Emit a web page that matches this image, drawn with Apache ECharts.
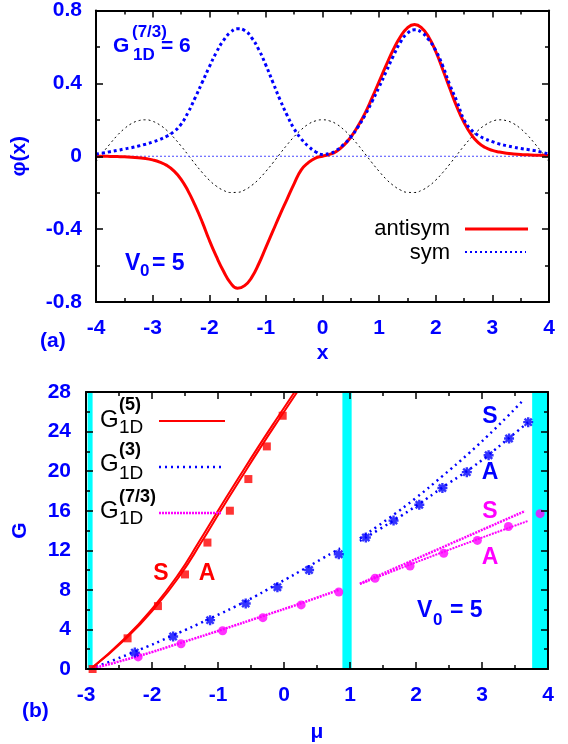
<!DOCTYPE html>
<html><head><meta charset="utf-8">
<script src="https://cdn.jsdelivr.net/npm/echarts@6/dist/echarts.min.js"></script>
<style>html,body{margin:0;padding:0;background:#fff}#c{width:568px;height:744px}</style>
</head><body><div id="c"></div>
<script>
// ---------- panel (a) data ----------
const xGrid = [-4, -3.875, -3.75, -3.625, -3.5, -3.375, -3.25, -3.125, -3, -2.875, -2.75, -2.625, -2.5, -2.375, -2.25, -2.125,
               -2, -1.875, -1.75, -1.625, -1.5, -1.375, -1.25, -1.125, -1, -0.875, -0.75, -0.625, -0.5, -0.375, -0.25, -0.125,
               0, 0.125, 0.25, 0.375, 0.5, 0.625, 0.75, 0.875, 1, 1.125, 1.25, 1.375, 1.5, 1.625, 1.75, 1.875,
               2, 2.125, 2.25, 2.375, 2.5, 2.625, 2.75, 2.875, 3, 3.125, 3.25, 3.375, 3.5, 3.625, 3.75, 3.875, 4];
const phiAntisym = [0, 0, -0.001, -0.002, -0.003, -0.005, -0.008, -0.012, -0.02, -0.032, -0.05, -0.08, -0.125, -0.19, -0.27, -0.36,
                    -0.46, -0.55, -0.63, -0.695, -0.725, -0.71, -0.665, -0.59, -0.50, -0.41, -0.32, -0.235, -0.15, -0.075, -0.035, -0.01,
                    0, 0.01, 0.028, 0.06, 0.105, 0.165, 0.235, 0.32, 0.41, 0.50, 0.585, 0.655, 0.705, 0.723, 0.705, 0.655,
                    0.575, 0.475, 0.37, 0.27, 0.185, 0.12, 0.075, 0.048, 0.032, 0.023, 0.017, 0.013, 0.01, 0.008, 0.006, 0.005, 0.004];
const phiSym = [0.012, 0.018, 0.025, 0.032, 0.04, 0.047, 0.056, 0.066, 0.078, 0.092, 0.11, 0.135, 0.175, 0.24, 0.32, 0.405,
                0.49, 0.57, 0.635, 0.68, 0.70, 0.69, 0.65, 0.585, 0.50, 0.405, 0.31, 0.225, 0.15, 0.095, 0.055, 0.025,
                0.01, 0.015, 0.033, 0.065, 0.105, 0.16, 0.225, 0.30, 0.38, 0.465, 0.55, 0.625, 0.675, 0.694, 0.68, 0.64,
                0.58, 0.495, 0.39, 0.30, 0.20, 0.145, 0.115, 0.095, 0.08, 0.067, 0.058, 0.05, 0.043, 0.037, 0.031, 0.022, 0.012];
const potential = [-0.029, 0.021, 0.069, 0.114, 0.151, 0.179, 0.195, 0.2, 0.192, 0.172, 0.142, 0.102, 0.057, 0.008, -0.042, -0.089,
                   -0.131, -0.164, -0.187, -0.199, -0.198, -0.185, -0.160, -0.126, -0.083, -0.036, 0.014, 0.063, 0.108, 0.146, 0.176, 0.194,
                   0.2, 0.194, 0.176, 0.146, 0.108, 0.063, 0.014, -0.036, -0.083, -0.126, -0.160, -0.185, -0.198, -0.199, -0.187, -0.164,
                   -0.131, -0.089, -0.042, 0.008, 0.057, 0.102, 0.142, 0.172, 0.192, 0.2, 0.195, 0.179, 0.151, 0.114, 0.069, 0.021, -0.029];
const zeroX = [-4, 4];
const zeroY = [0, 0];
const xTicksA = ['-4', '-3', '-2', '-1', '0', '1', '2', '3', '4'];
const yTicksA = ['-0.8', '-0.4', '0', '0.4', '0.8'];

// ---------- panel (b) data ----------
const bandLo = [-2.975, 0.885, 3.76];
const bandHi = [-2.9, 1.025, 4.0];

const redS_mu = [-2.93, -2.41, -1.965, -1.60, -1.295, -1.00, -0.69, -0.385, -0.08, 0.16];
const redS_G  = [0, 3.1, 6.36, 9.56, 12.78, 16.0, 19.3, 22.5, 25.6, 28];
const redA_mu = [-2.93, -2.39, -1.935, -1.565, -1.255, -0.96, -0.65, -0.345, -0.04, 0.20];
const redA_G  = [0, 3.1, 6.36, 9.56, 12.78, 16.0, 19.3, 22.5, 25.6, 28];
const redSq_mu = [-2.9, -2.37, -1.91, -1.50, -1.16, -0.82, -0.54, -0.26, -0.02];
const redSq_G  = [0, 3.1, 6.36, 9.56, 12.78, 16.0, 19.2, 22.5, 25.6];

const blue1_mu = [-2.93, -2.26, -1.68, -1.12, -0.58, -0.10, 0.38, 0.85];
const blue1_G  = [0, 1.75, 3.4, 5.1, 6.85, 8.6, 10.4, 12.2];
const blueS_mu = [1.15, 1.6, 2.0, 2.4, 2.8, 3.2, 3.6];
const blueS_G  = [13.2, 15.3, 17.3, 19.5, 21.8, 24.3, 27.0];
const blueA_mu = [1.15, 1.66, 2.05, 2.40, 2.77, 3.10, 3.41, 3.72];
const blueA_G  = [12.95, 15.0, 16.7, 18.35, 20.0, 21.65, 23.35, 25.05];
const blueStar_mu = [-2.26, -1.68, -1.12, -0.58, -0.10, 0.38, 0.83, 1.24, 1.66, 2.05, 2.40, 2.77, 3.10, 3.41, 3.70];
const blueStar_G  = [1.66, 3.28, 4.94, 6.62, 8.27, 10.0, 11.6, 13.3, 15.0, 16.6, 18.3, 19.9, 21.6, 23.3, 24.95];

const mag1_mu = [-2.93, -2.21, -1.56, -0.93, -0.32, 0.26, 0.83];
const mag1_G  = [0, 1.3, 2.65, 4.0, 5.35, 6.65, 8.0];
const magS_mu = [1.15, 2.4, 3.65];
const magS_G  = [8.62, 12.3, 15.96];
const magA_mu = [1.15, 2.4, 3.70];
const magA_G  = [8.58, 11.8, 14.97];
const magDot_mu = [-2.21, -1.56, -0.93, -0.32, 0.26, 0.83, 1.38, 1.91, 2.42, 2.93, 3.40, 3.88];
const magDot_G  = [1.22, 2.55, 3.87, 5.19, 6.48, 7.78, 9.17, 10.4, 11.7, 13.0, 14.4, 15.7];

const xTicksB = ['-3', '-2', '-1', '0', '1', '2', '3', '4'];
const yTicksB = ['0', '4', '8', '12', '16', '20', '24', '28'];

// ---------- helpers ----------
const FONT = "'Liberation Sans', Arial, Helvetica, sans-serif";
const BLUE = '#0000ff', RED = '#ff0000', MAG = '#ff00ff', CYAN = '#00ffff';
const zip = (a, b) => a.map((v, i) => [v, b[i]]);

function axis(o) {
  const base = {
    type: 'value', z: 5,
    splitLine: { show: false }, minorSplitLine: { show: false },
    axisLine: { show: true, onZero: false, lineStyle: { color: '#000', width: 2 } },
    axisTick: { show: true, inside: true, length: 7, lineStyle: { color: '#000', width: 1.5 } },
    minorTick: { show: true, splitNumber: 2, length: 4, lineStyle: { color: '#000', width: 1.5 } },
    axisLabel: { show: false }
  };
  return Object.assign(base, o);
}
function lab(labels, min, step, margin) {
  return { show: true, color: BLUE, fontSize: 21, fontWeight: 'bold', fontFamily: FONT, margin: margin,
           formatter: v => labels[Math.round((v - min) / step)] };
}
const nameStyle = { color: BLUE, fontSize: 21, fontWeight: 'bold', fontFamily: FONT };

function txt(x, y, text, size, weight, color, align) {
  return { type: 'text', x: x, y: y, z: 100,
    style: { text: text, fontSize: size, fontWeight: weight, fontFamily: FONT, fill: color,
             align: align || 'left', verticalAlign: 'middle', textAlign: align || 'left', textVerticalAlign: 'middle' } };
}
function seg(x1, y1, x2, y2, color, w, dash) {
  return { type: 'line', z: 100, shape: { x1: x1, y1: y1, x2: x2, y2: y2 },
    style: { stroke: color, lineWidth: w, lineDash: dash || null } };
}
const asterisk = 'path://M-1.2,-5L1.2,-5L1.2,5L-1.2,5Z M-5,-1.2L5,-1.2L5,1.2L-5,1.2Z ' +
                 'M-4.45,-2.75L-2.75,-4.45L4.45,2.75L2.75,4.45Z M2.75,-4.45L4.45,-2.75L-2.75,4.45L-4.45,2.75Z';

const chart = echarts.init(document.getElementById('c'), null, { renderer: 'canvas' });
chart.setOption({
  animation: false,
  backgroundColor: '#fff',
  grid: [
    { left: 96, top: 10, width: 453, height: 292 },
    { left: 86, top: 392, width: 462, height: 282 }
  ],
  xAxis: [
    axis({ gridIndex: 0, min: -4, max: 4, interval: 1, position: 'bottom', axisLabel: lab(xTicksA, -4, 1, 16),
           name: 'x', nameLocation: 'middle', nameGap: 41, nameTextStyle: nameStyle }),
    axis({ gridIndex: 0, min: -4, max: 4, interval: 1, position: 'top' }),
    axis({ gridIndex: 1, min: -3, max: 4, interval: 1, position: 'bottom', axisLabel: lab(xTicksB, -3, 1, 16),
           name: 'μ', nameLocation: 'middle', nameGap: 53, nameTextStyle: nameStyle }),
    axis({ gridIndex: 1, min: -3, max: 4, interval: 1, position: 'top' })
  ],
  yAxis: [
    axis({ gridIndex: 0, min: -0.8, max: 0.8, interval: 0.4, position: 'left', axisLabel: lab(yTicksA, -0.8, 0.4, 14),
           name: 'φ(x)', nameLocation: 'middle', nameGap: 66, nameRotate: 90, nameTextStyle: nameStyle }),
    axis({ gridIndex: 0, min: -0.8, max: 0.8, interval: 0.4, position: 'right' }),
    axis({ gridIndex: 1, min: 0, max: 28, interval: 4, position: 'left', axisLabel: lab(yTicksB, 0, 4, 15),
           name: 'G', nameLocation: 'middle', nameGap: 55, nameRotate: 90, nameTextStyle: nameStyle }),
    axis({ gridIndex: 1, min: 0, max: 28, interval: 4, position: 'right' })
  ],
  series: [
    // panel (a)
    { type: 'line', xAxisIndex: 0, yAxisIndex: 0, data: zip(xGrid, potential), smooth: true, showSymbol: false,
      lineStyle: { color: '#000', width: 1, type: [2, 3] }, z: 2 },
    { type: 'line', xAxisIndex: 0, yAxisIndex: 0, data: zip(zeroX, zeroY), showSymbol: false,
      lineStyle: { color: '#4a4aff', width: 1, type: [2, 2] }, z: 2 },
    { type: 'line', xAxisIndex: 0, yAxisIndex: 0, data: zip(xGrid, phiAntisym), smooth: true, showSymbol: false,
      lineStyle: { color: RED, width: 3 }, z: 3 },
    { type: 'line', xAxisIndex: 0, yAxisIndex: 0, data: zip(xGrid, phiSym), smooth: true, showSymbol: false,
      lineStyle: { color: BLUE, width: 3, type: [3, 3] }, z: 4 },
    // panel (b) bands
    { type: 'line', xAxisIndex: 2, yAxisIndex: 2, data: [], z: 1,
      markArea: { silent: true, itemStyle: { color: CYAN, opacity: 1 },
        data: bandLo.map((lo, i) => [{ xAxis: lo }, { xAxis: bandHi[i] }]) } },
    // red
    { type: 'line', xAxisIndex: 2, yAxisIndex: 2, data: zip(redS_mu, redS_G), smooth: true, showSymbol: false,
      lineStyle: { color: RED, width: 2 }, z: 3 },
    { type: 'line', xAxisIndex: 2, yAxisIndex: 2, data: zip(redA_mu, redA_G), smooth: true, showSymbol: false,
      lineStyle: { color: RED, width: 2 }, z: 3 },
    // blue
    { type: 'line', xAxisIndex: 2, yAxisIndex: 2, data: zip(blue1_mu, blue1_G), smooth: true, showSymbol: false,
      lineStyle: { color: BLUE, width: 2.5, type: [2, 4] }, z: 3 },
    { type: 'line', xAxisIndex: 2, yAxisIndex: 2, data: zip(blueS_mu, blueS_G), smooth: true, showSymbol: false,
      lineStyle: { color: BLUE, width: 2.5, type: [2, 4] }, z: 3 },
    { type: 'line', xAxisIndex: 2, yAxisIndex: 2, data: zip(blueA_mu, blueA_G), smooth: true, showSymbol: false,
      lineStyle: { color: BLUE, width: 2.5, type: [2, 4] }, z: 3 },
    // magenta
    { type: 'line', xAxisIndex: 2, yAxisIndex: 2, data: zip(mag1_mu, mag1_G), smooth: true, showSymbol: false,
      lineStyle: { color: MAG, width: 2.5, type: [2, 1] }, z: 3 },
    { type: 'line', xAxisIndex: 2, yAxisIndex: 2, data: zip(magS_mu, magS_G), smooth: true, showSymbol: false,
      lineStyle: { color: MAG, width: 2.5, type: [2, 1] }, z: 3 },
    { type: 'line', xAxisIndex: 2, yAxisIndex: 2, data: zip(magA_mu, magA_G), smooth: true, showSymbol: false,
      lineStyle: { color: MAG, width: 2, type: [2, 1] }, z: 3 },
    // points
    { type: 'scatter', xAxisIndex: 2, yAxisIndex: 2, data: zip(magDot_mu, magDot_G), symbol: 'circle', symbolSize: 9,
      itemStyle: { color: MAG }, z: 4 },
    { type: 'scatter', xAxisIndex: 2, yAxisIndex: 2, data: zip(blueStar_mu, blueStar_G), symbol: asterisk, symbolSize: 10,
      itemStyle: { color: BLUE }, z: 4 },
    { type: 'scatter', xAxisIndex: 2, yAxisIndex: 2, data: zip(redSq_mu, redSq_G), symbol: 'rect', symbolSize: 8,
      itemStyle: { color: RED }, z: 4 }
  ],
  graphic: [
    // panel (a) annotations
    txt(113, 46, 'G', 21, 'bold', BLUE),
    txt(132, 32, '(7/3)', 17, 'bold', BLUE),
    txt(133, 55, '1D', 17, 'bold', BLUE),
    txt(161, 46, '= 6', 21, 'bold', BLUE),
    txt(125, 264, 'V', 23, 'bold', BLUE),
    txt(140, 271, '0', 17, 'bold', BLUE),
    txt(152, 264, '= 5', 23, 'bold', BLUE),
    txt(450, 229, 'antisym', 22, 'normal', '#000', 'right'),
    txt(450, 253, 'sym', 22, 'normal', '#000', 'right'),
    seg(465, 229, 528, 229, RED, 3),
    seg(465, 252, 526, 252, BLUE, 2, [2, 3]),
    txt(40, 341, '(a)', 21, 'bold', BLUE),
    // panel (b) annotations
    txt(22, 711, '(b)', 21, 'bold', BLUE),
    txt(100, 420, 'G', 24, 'normal', '#000'),
    txt(119, 405, '(5)', 18, 'bold', '#000'),
    txt(119, 428, '1D', 19, 'normal', '#000'),
    txt(100, 464, 'G', 24, 'normal', '#000'),
    txt(119, 450, '(3)', 18, 'bold', '#000'),
    txt(119, 474, '1D', 19, 'normal', '#000'),
    txt(100, 511, 'G', 24, 'normal', '#000'),
    txt(119, 497, '(7/3)', 18, 'bold', '#000'),
    txt(119, 519, '1D', 19, 'normal', '#000'),
    seg(159, 421, 225, 421, RED, 2),
    seg(159, 467, 225, 467, BLUE, 2.5, [2, 4]),
    seg(159, 513, 222, 513, MAG, 2.5, [2, 1]),
    txt(161, 574, 'S', 23, 'bold', RED, 'center'),
    txt(207, 574, 'A', 23, 'bold', RED, 'center'),
    txt(490, 417, 'S', 23, 'bold', BLUE, 'center'),
    txt(490, 473, 'A', 23, 'bold', BLUE, 'center'),
    txt(490, 512, 'S', 23, 'bold', MAG, 'center'),
    txt(490, 558, 'A', 23, 'bold', MAG, 'center'),
    txt(417, 611, 'V', 23, 'bold', BLUE),
    txt(433, 620, '0', 17, 'bold', BLUE),
    txt(450, 611, '= 5', 23, 'bold', BLUE)
  ]
});
</script></body></html>
